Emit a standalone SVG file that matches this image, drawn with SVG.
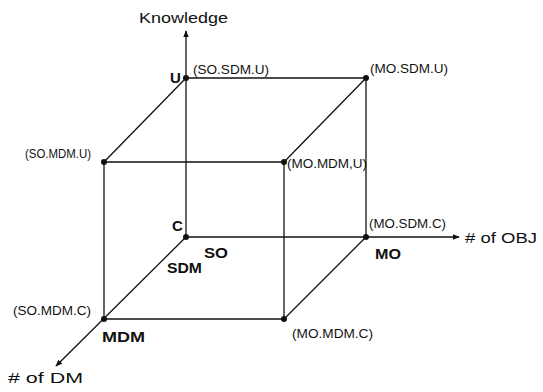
<svg xmlns="http://www.w3.org/2000/svg" width="543" height="392" viewBox="0 0 543 392">
<style>
.ln{stroke:#111;stroke-width:1.3;fill:none}
.ax{stroke:#111;stroke-width:1.3;fill:none;marker-end:url(#ah)}
.pt{fill:#111}
.lb{font-family:"Liberation Sans",Arial,sans-serif;font-size:12.5px;fill:#111}
.ax-t{font-family:"Liberation Sans",Arial,sans-serif;font-size:14px;fill:#111}
.bd{font-family:"Liberation Sans",Arial,sans-serif;font-size:15px;font-weight:bold;fill:#111}
</style>
<defs>
<marker id="ah" viewBox="0 0 10 10" refX="9" refY="5" markerWidth="7" markerHeight="7" markerUnits="userSpaceOnUse" orient="auto">
<path d="M0,1 L10,5 L0,9 Z" fill="#111"/>
</marker>
</defs>
<g id="connectors">
<line class="ax" x1="186" y1="237" x2="186" y2="31"/>
<line class="ax" x1="186" y1="237" x2="459" y2="237"/>
<line class="ax" x1="186" y1="237" x2="56" y2="366"/>
<line class="ln" x1="186" y1="78" x2="366" y2="78"/>
<line class="ln" x1="366" y1="78" x2="366" y2="237"/>
<line class="ln" x1="186" y1="78" x2="104" y2="162"/>
<line class="ln" x1="366" y1="78" x2="284" y2="162"/>
<line class="ln" x1="366" y1="237" x2="284" y2="319"/>
<line class="ln" x1="104" y1="162" x2="284" y2="162"/>
<line class="ln" x1="104" y1="162" x2="104" y2="319"/>
<line class="ln" x1="284" y1="162" x2="284" y2="319"/>
<line class="ln" x1="104" y1="319" x2="284" y2="319"/>
</g>
<g id="axis-knowledge"><text class="ax-t" x="139" y="23" textLength="89" lengthAdjust="spacingAndGlyphs">Knowledge</text></g>
<g id="axis-obj"><text class="ax-t" x="465" y="243" textLength="72" lengthAdjust="spacingAndGlyphs"># of OBJ</text></g>
<g id="axis-dm"><text class="ax-t" x="8" y="383" textLength="75" lengthAdjust="spacingAndGlyphs"># of DM</text></g>
<g id="node-so-sdm-u">
<circle class="pt" cx="186" cy="78" r="3"/>
<text class="bd" x="170" y="83">U</text>
<text class="lb" x="193" y="74" textLength="76" lengthAdjust="spacingAndGlyphs">(SO.SDM.U)</text>
</g>
<g id="node-mo-sdm-u">
<circle class="pt" cx="366" cy="78" r="3"/>
<text class="lb" x="370" y="73" textLength="78" lengthAdjust="spacingAndGlyphs">(MO.SDM.U)</text>
</g>
<g id="node-so-mdm-u">
<circle class="pt" cx="104" cy="162" r="3"/>
<text class="lb" x="25" y="158" textLength="66" lengthAdjust="spacingAndGlyphs">(SO.MDM.U)</text>
</g>
<g id="node-mo-mdm-u">
<circle class="pt" cx="284" cy="162" r="3"/>
<text class="lb" x="287" y="168" textLength="80" lengthAdjust="spacingAndGlyphs">(MO.MDM,U)</text>
</g>
<g id="node-so-sdm-c">
<circle class="pt" cx="186" cy="237" r="3"/>
<text class="bd" x="172" y="231">C</text>
<text class="bd" x="204" y="258" textLength="24" lengthAdjust="spacingAndGlyphs">SO</text>
<text class="bd" x="167" y="273" textLength="35" lengthAdjust="spacingAndGlyphs">SDM</text>
</g>
<g id="node-mo-sdm-c">
<circle class="pt" cx="366" cy="237" r="3"/>
<text class="lb" x="369" y="228" textLength="77" lengthAdjust="spacingAndGlyphs">(MO.SDM.C)</text>
<text class="bd" x="375" y="259" textLength="26" lengthAdjust="spacingAndGlyphs">MO</text>
</g>
<g id="node-so-mdm-c">
<circle class="pt" cx="104" cy="319" r="3"/>
<text class="lb" x="13" y="315" textLength="78" lengthAdjust="spacingAndGlyphs">(SO.MDM.C)</text>
<text class="bd" x="102" y="342" textLength="43" lengthAdjust="spacingAndGlyphs">MDM</text>
</g>
<g id="node-mo-mdm-c">
<circle class="pt" cx="284" cy="319" r="3"/>
<text class="lb" x="292" y="338" textLength="81" lengthAdjust="spacingAndGlyphs">(MO.MDM.C)</text>
</g>
</svg>
